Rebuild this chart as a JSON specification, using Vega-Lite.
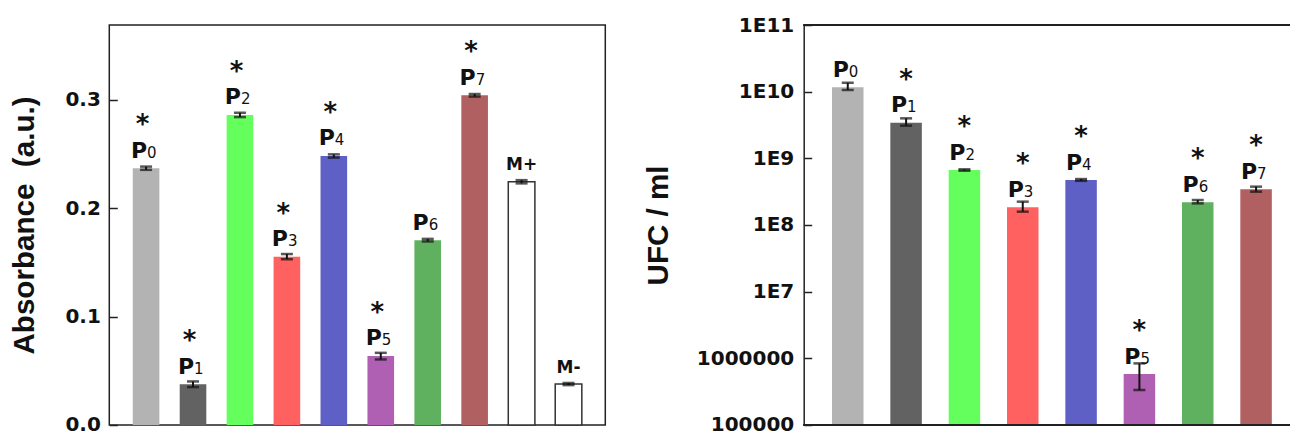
{
  "$schema": "https://vega.github.io/schema/vega-lite/v6.json",
  "padding": {"left": 8.3, "top": 15, "right": 0, "bottom": -2},
  "background": "white",
  "datasets": {
    "abs": [
      {"name": "P0", "lab": "P", "sub": "0", "value": 0.237, "lo": 0.2355, "hi": 0.2385, "star": true},
      {"name": "P1", "lab": "P", "sub": "1", "value": 0.0375, "lo": 0.035, "hi": 0.0402, "star": true},
      {"name": "P2", "lab": "P", "sub": "2", "value": 0.2862, "lo": 0.2842, "hi": 0.2882, "star": true},
      {"name": "P3", "lab": "P", "sub": "3", "value": 0.1553, "lo": 0.153, "hi": 0.1578, "star": true},
      {"name": "P4", "lab": "P", "sub": "4", "value": 0.2483, "lo": 0.2468, "hi": 0.2498, "star": true},
      {"name": "P5", "lab": "P", "sub": "5", "value": 0.0637, "lo": 0.0605, "hi": 0.0666, "star": true},
      {"name": "P6", "lab": "P", "sub": "6", "value": 0.1706, "lo": 0.1694, "hi": 0.1718, "star": false},
      {"name": "P7", "lab": "P", "sub": "7", "value": 0.3043, "lo": 0.3031, "hi": 0.3055, "star": true},
      {"name": "M+", "lab": "M+", "sub": "", "value": 0.2245, "lo": 0.223, "hi": 0.226, "star": false},
      {"name": "M-", "lab": "M-", "sub": "", "value": 0.0378, "lo": 0.0368, "hi": 0.0388, "star": false}
    ],
    "ufc": [
      {"name": "P0", "lab": "P", "sub": "0", "value": 11600000000, "lo": 10600000000, "hi": 13600000000, "star": false},
      {"name": "P1", "lab": "P", "sub": "1", "value": 3420000000, "lo": 3090000000, "hi": 3980000000, "star": true},
      {"name": "P2", "lab": "P", "sub": "2", "value": 668000000, "lo": 652000000, "hi": 684000000, "star": true},
      {"name": "P3", "lab": "P", "sub": "3", "value": 184000000, "lo": 158500000, "hi": 224000000, "star": true},
      {"name": "P4", "lab": "P", "sub": "4", "value": 473000000, "lo": 460000000, "hi": 489000000, "star": true},
      {"name": "P5", "lab": "P", "sub": "5", "value": 582000, "lo": 335000, "hi": 840000, "star": true},
      {"name": "P6", "lab": "P", "sub": "6", "value": 219000000, "lo": 211000000, "hi": 237000000, "star": true},
      {"name": "P7", "lab": "P", "sub": "7", "value": 343000000, "lo": 316000000, "hi": 376000000, "star": true}
    ]
  },
  "bounds": "flush",
  "spacing": 198.4,
  "hconcat": [
    {
      "width": 496,
      "height": 400,
      "data": {"name": "abs"},
      "view": {"stroke": "#222222", "strokeWidth": 1.5},
      "encoding": {
        "x": {"field": "name", "type": "nominal", "sort": null, "axis": null,
              "scale": {"paddingInner": 0.433, "paddingOuter": 0.5}}
      },
      "layer": [
        {
          "mark": {"type": "bar", "strokeWidth": 1.5},
          "encoding": {
            "y": {"field": "value", "type": "quantitative",
                  "scale": {"domain": [0, 0.3692], "nice": false},
                  "axis": {"title": "Absorbance \u00a0(a.u.)", "values": [0, 0.1, 0.2, 0.3], "format": ".1f",
                           "tickSize": -8, "labelPadding": 17, "domain": false, "titleX": -70, "titleY": 200}},
            "fill": {"field": "name", "type": "nominal", "legend": null,
                     "scale": {"domain": ["P0", "P1", "P2", "P3", "P4", "P5", "P6", "P7", "M+", "M-"],
                               "range": ["#b3b3b3", "#626262", "#64ff5c", "#ff6060", "#5e60c6", "#b060b2", "#5fb160", "#b06060", "#ffffff", "#ffffff"]}},
            "stroke": {"condition": {"test": "datum.name === 'M+' || datum.name === 'M-'", "value": "#333333"}, "value": "transparent"}
          }
        },
        {
          "mark": {"type": "rule", "color": "#111111", "strokeWidth": 2},
          "encoding": {"y": {"field": "lo", "type": "quantitative"}, "y2": {"field": "hi"}}
        },
        {
          "mark": {"type": "tick", "color": "#111111", "thickness": 2.5, "size": 12},
          "encoding": {"y": {"field": "lo", "type": "quantitative"}}
        },
        {
          "mark": {"type": "tick", "color": "#111111", "thickness": 2.5, "size": 12},
          "encoding": {"y": {"field": "hi", "type": "quantitative"}}
        },
        {
          "transform": [{"filter": "datum.sub !== ''"}],
          "mark": {"type": "text", "align": "right", "baseline": "alphabetic", "dx": 1, "dy": -10.5,
                   "font": "DejaVu Sans", "fontWeight": "bold", "fontSize": 22, "color": "#111111"},
          "encoding": {"y": {"field": "value", "type": "quantitative"}, "text": {"field": "lab"}}
        },
        {
          "transform": [{"filter": "datum.sub !== ''"}],
          "mark": {"type": "text", "align": "left", "baseline": "alphabetic", "dx": 1, "dy": -10.5,
                   "font": "DejaVu Sans", "fontWeight": "normal", "fontSize": 15, "color": "#111111"},
          "encoding": {"y": {"field": "value", "type": "quantitative"}, "text": {"field": "sub"}}
        },
        {
          "transform": [{"filter": "datum.sub === ''"}],
          "mark": {"type": "text", "align": "center", "baseline": "alphabetic", "dx": 0, "dy": -11.5,
                   "font": "DejaVu Sans", "fontWeight": "bold", "fontSize": 17, "color": "#111111"},
          "encoding": {"y": {"field": "value", "type": "quantitative"}, "text": {"field": "lab"}}
        },
        {
          "transform": [{"filter": "datum.star"}],
          "mark": {"type": "text", "align": "center", "baseline": "alphabetic", "dx": -3.5, "dy": -35,
                   "font": "DejaVu Sans", "fontWeight": "bold", "fontSize": 26, "color": "#111111"},
          "encoding": {"y": {"field": "value", "type": "quantitative"}, "text": {"value": "*"}}
        }
      ]
    },
    {
      "width": 487,
      "height": 400,
      "data": {"name": "ufc"},
      "layer": [
        {
          "mark": {"type": "bar"},
          "encoding": {
            "x": {"field": "name", "type": "nominal", "sort": null, "axis": null,
                  "scale": {"paddingInner": 0.46, "paddingOuter": 0.4045, "align": 0.6}},
            "y": {"field": "value", "type": "quantitative",
                  "scale": {"type": "log", "domain": [100000, 100000000000], "nice": false},
                  "axis": {"title": "UFC / ml", "values": [100000, 1000000, 10000000, 100000000, 1000000000, 10000000000, 100000000000],
                           "labelExpr": "datum.value >= 1e7 ? '1E' + format(log(datum.value) / LN10, '.0f') : format(datum.value, '.0f')",
                           "tickSize": -8, "labelPadding": 18, "domain": true, "titleX": -130, "titleY": 200}},
            "y2": {"datum": 100000},
            "fill": {"field": "name", "type": "nominal", "legend": null,
                     "scale": {"domain": ["P0", "P1", "P2", "P3", "P4", "P5", "P6", "P7", "M+", "M-"],
                               "range": ["#b3b3b3", "#626262", "#64ff5c", "#ff6060", "#5e60c6", "#b060b2", "#5fb160", "#b06060", "#ffffff", "#ffffff"]}}
          }
        },
        {
          "mark": {"type": "rule", "color": "#222222", "strokeWidth": 1.5},
          "encoding": {"y": {"datum": 100000}}
        },
        {
          "mark": {"type": "rule", "color": "#222222", "strokeWidth": 1.5},
          "encoding": {"y": {"datum": 100000000000}}
        },
        {
          "mark": {"type": "rule", "color": "#111111", "strokeWidth": 2},
          "encoding": {"x": {"field": "name", "type": "nominal", "sort": null},
                       "y": {"field": "lo", "type": "quantitative"}, "y2": {"field": "hi"}}
        },
        {
          "mark": {"type": "tick", "color": "#111111", "thickness": 2.5, "size": 12},
          "encoding": {"x": {"field": "name", "type": "nominal", "sort": null},
                       "y": {"field": "lo", "type": "quantitative"}}
        },
        {
          "mark": {"type": "tick", "color": "#111111", "thickness": 2.5, "size": 12},
          "encoding": {"x": {"field": "name", "type": "nominal", "sort": null},
                       "y": {"field": "hi", "type": "quantitative"}}
        },
        {
          "mark": {"type": "text", "align": "right", "baseline": "alphabetic", "dx": 1, "dy": -10.5,
                   "font": "DejaVu Sans", "fontWeight": "bold", "fontSize": 22, "color": "#111111"},
          "encoding": {"x": {"field": "name", "type": "nominal", "sort": null},
                       "y": {"field": "value", "type": "quantitative"}, "text": {"field": "lab"}}
        },
        {
          "mark": {"type": "text", "align": "left", "baseline": "alphabetic", "dx": 1, "dy": -10.5,
                   "font": "DejaVu Sans", "fontWeight": "normal", "fontSize": 15, "color": "#111111"},
          "encoding": {"x": {"field": "name", "type": "nominal", "sort": null},
                       "y": {"field": "value", "type": "quantitative"}, "text": {"field": "sub"}}
        },
        {
          "transform": [{"filter": "datum.star"}],
          "mark": {"type": "text", "align": "center", "baseline": "alphabetic", "dx": 0, "dy": -35,
                   "font": "DejaVu Sans", "fontWeight": "bold", "fontSize": 26, "color": "#111111"},
          "encoding": {"x": {"field": "name", "type": "nominal", "sort": null},
                       "y": {"field": "value", "type": "quantitative"}, "text": {"value": "*"}}
        }
      ]
    }
  ],
  "config": {
    "view": {"stroke": null},
    "axis": {
      "labelFont": "DejaVu Sans", "labelFontSize": 20, "labelFontWeight": "bold", "labelColor": "#111111",
      "titleFont": "Liberation Sans", "titleFontSize": 29.6, "titleFontWeight": "bold", "titleColor": "#111111",
      "tickColor": "#222222", "tickWidth": 1.5, "domainColor": "#222222", "domainWidth": 1.5, "grid": false
    }
  }
}
